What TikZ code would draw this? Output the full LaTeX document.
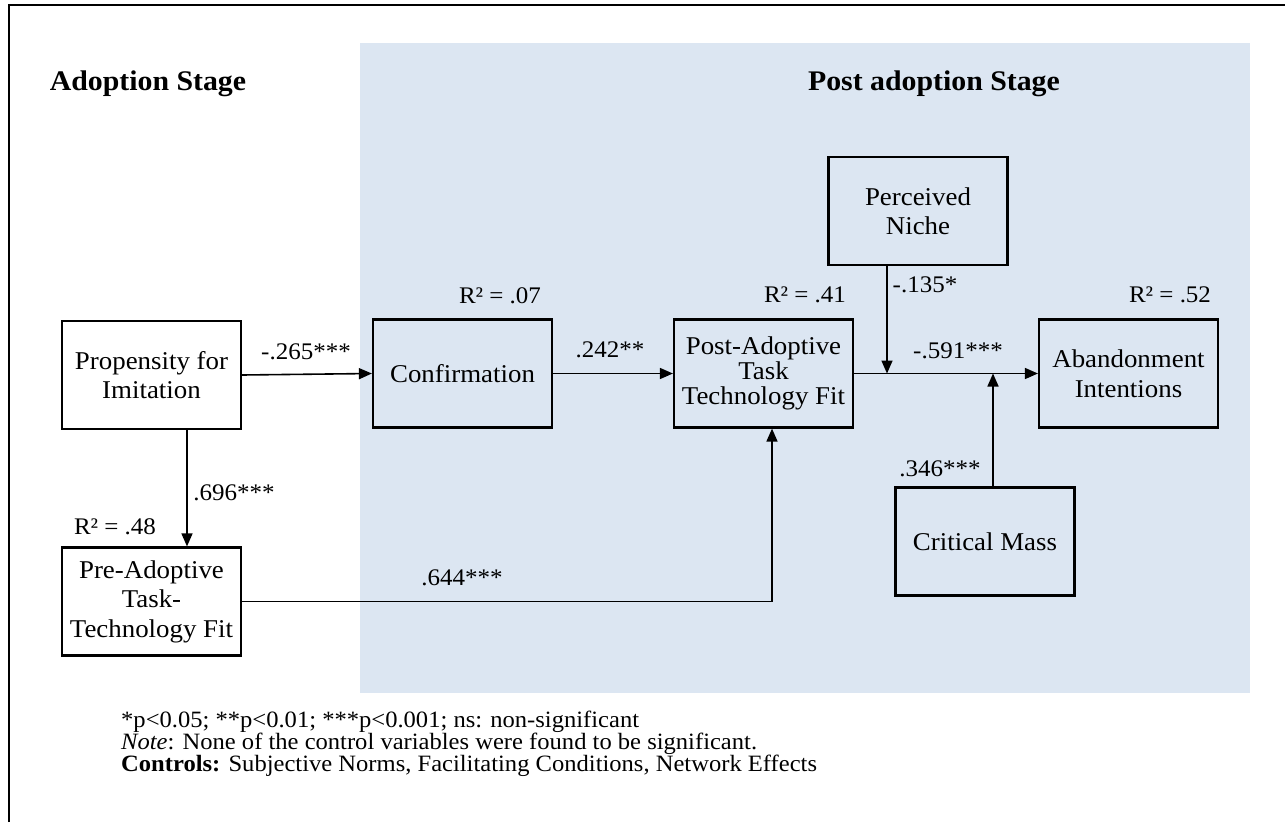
\documentclass[tikz,border=0pt]{standalone}
\usepackage{fontspec}
\setmainfont{Liberation Serif}[FakeStretch=1.05]
\usetikzlibrary{arrows.meta}
\definecolor{stagebg}{HTML}{DCE6F2}
\begin{document}
\begin{tikzpicture}[x=1pt,y=-1pt,
  box/.style={draw, line width=2.2pt, minimum width=179pt, minimum height=108pt,
    inner sep=0pt, align=center, font=\fontsize{25.6}{29.5}\selectfont},
  tight/.style={font=\fontsize{25.6}{25}\selectfont},
  link/.style={line width=1.6pt, -{Triangle[length=13pt,width=11pt]}},
  lab/.style={font=\fontsize{23.8}{26}\selectfont, inner sep=0pt},
  head/.style={font=\fontsize{28.4}{30}\selectfont\bfseries, inner sep=0pt},
  foot/.style={font=\fontsize{23.4}{22}\selectfont, inner sep=0pt, anchor=base west}]
  \useasboundingbox (0,0) rectangle (1285,822);

  % page frame
  \draw[line width=2pt] (9,822) -- (9,5) -- (1285,5);

  % post adoption stage background
  \fill[stagebg] (360,43) rectangle (1250,693);

  % stage headings
  \node[head] (hadopt) at (148,84) {Adoption Stage};
  \node[head] (hpost) at (934,84) {Post adoption Stage};

  % constructs
  \node[box] (prop) at (151.5,375) {Propensity for\\Imitation};
  \node[box] (pre) at (151.5,601.5) {Pre-Adoptive\\Task-\\Technology Fit};
  \node[box] (conf) at (462.5,373.5) {Confirmation};
  \node[box,tight] (patt) at (763.5,373.5) {Post-Adoptive\\Task\\Technology Fit};
  \node[box] (niche) at (918,211) {Perceived\\Niche};
  \node[box] (aband) at (1128.5,373.5) {Abandonment\\Intentions};
  \node[box] (cmass) at (985,541.5) {Critical Mass};

  % moderation points on the main path
  \coordinate (jn) at (887,373.5);
  \coordinate (jc) at (993,373.5);

  % paths
  \draw[link] (prop.east) -- (conf.west);
  \draw[link] ([xshift=35.5pt]prop.south) -- ([xshift=35.5pt]pre.north);
  \draw[link] (conf.east) -- (patt.west);
  \draw[link] (pre.east) -| ([xshift=8.5pt]patt.south);
  \draw[link] (patt.east) -- (aband.west);
  \draw[link] (niche.south -| jn) -- (jn);
  \draw[link] (cmass.north -| jc) -- (jc);

  % path coefficients
  \node[lab] (c1) at (306,352) {-.265***};
  \node[lab] (c2) at (234,493) {.696***};
  \node[lab] (c3) at (610,350) {.242**};
  \node[lab] (c4) at (462,578) {.644***};
  \node[lab] (c5) at (958,351) {-.591***};
  \node[lab] (c6) at (925,285) {-.135*};
  \node[lab] (c7) at (940,469) {.346***};

  % explained variance
  \node[lab] (r1) at (115,527) {R² = .48};
  \node[lab] (r2) at (500,296) {R² = .07};
  \node[lab] (r3) at (805,295) {R² = .41};
  \node[lab] (r4) at (1170,295) {R² = .52};

  % notes
  \node[foot] (n1) at (121,727) {*p<0.05; **p<0.01; ***p<0.001; ns: non-significant};
  \node[foot] (n2) at (121,749) {\textit{Note}: None of the control variables were found to be significant.};
  \node[foot] (n3) at (121,771) {\textbf{Controls:} Subjective Norms, Facilitating Conditions, Network Effects};
\end{tikzpicture}
\end{document}
